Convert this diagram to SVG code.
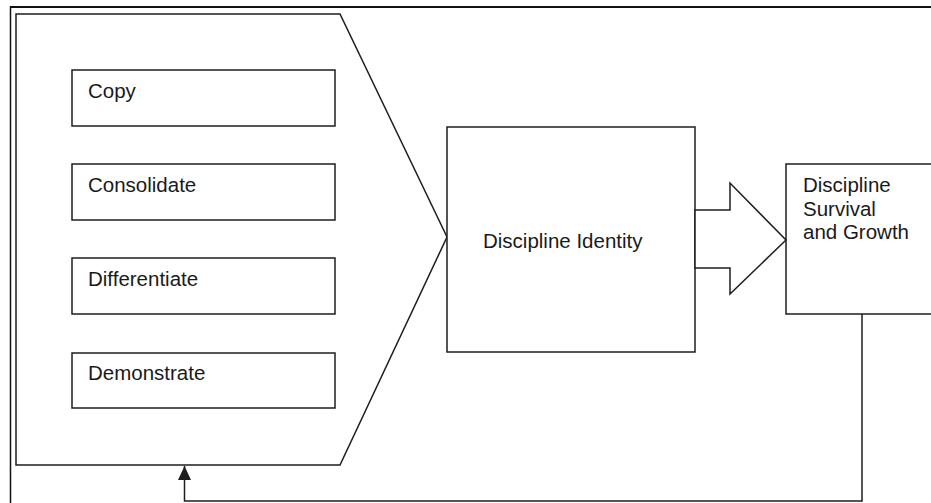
<svg xmlns="http://www.w3.org/2000/svg" width="931" height="503" viewBox="0 0 931 503">
  <style>
    .shape { fill: #ffffff; stroke: #1e1e1e; stroke-width: 1.5; }
    .line { fill: none; stroke: #1e1e1e; stroke-width: 1.5; }
    .label { font-family: "Liberation Sans", Arial, sans-serif; font-size: 20.5px; fill: #1a1a1a; }
  </style>
  <defs>
    <marker id="arrowHead" viewBox="0 0 14 13" refX="14" refY="6.5" markerWidth="14" markerHeight="13" markerUnits="userSpaceOnUse" orient="auto">
      <path d="M0,0 L14,6.5 L0,13 Z" fill="#1e1e1e"/>
    </marker>
  </defs>
  <rect x="0" y="0" width="931" height="503" fill="#ffffff"/>

  <!-- outer frame -->
  <g id="frame">
    <path d="M10.5,503 L10.5,7 L931,7" fill="none" stroke="#111" stroke-width="1.5"/>
    <line x1="10" y1="7" x2="931" y2="7" stroke="#111" stroke-width="2.2"/>
  </g>

  <!-- strategy pentagon with its four activities -->
  <g id="strategies">
    <polygon class="shape" points="16,14 340,14 447,237 340,465 16,465"/>
  </g>
  <g id="copy">
    <rect class="shape" x="72" y="70" width="263" height="56"/>
    <text class="label" x="88" y="98">Copy</text>
  </g>
  <g id="consolidate">
    <rect class="shape" x="72" y="164" width="263" height="56"/>
    <text class="label" x="88" y="192">Consolidate</text>
  </g>
  <g id="differentiate">
    <rect class="shape" x="72" y="258" width="263" height="56"/>
    <text class="label" x="88" y="286">Differentiate</text>
  </g>
  <g id="demonstrate">
    <rect class="shape" x="72" y="353" width="263" height="55"/>
    <text class="label" x="88" y="380">Demonstrate</text>
  </g>

  <!-- identity -->
  <g id="identity">
    <rect class="shape" x="447" y="127" width="248" height="225"/>
    <text class="label" x="483" y="248">Discipline Identity</text>
  </g>

  <!-- survival and growth -->
  <g id="survival">
    <rect class="shape" x="786" y="164" width="160" height="150"/>
    <text class="label" x="803" y="192">Discipline</text>
    <text class="label" x="803" y="215.5">Survival</text>
    <text class="label" x="803" y="239">and Growth</text>
  </g>

  <!-- connectors -->
  <g id="connectors">
    <polygon class="shape" points="695,210 730,210 730,183 786,240 730,294 730,268 695,268"/>
    <path class="line" d="M862,314 L862,501 L184.5,501 L184.5,466" marker-end="url(#arrowHead)"/>
  </g>
</svg>
